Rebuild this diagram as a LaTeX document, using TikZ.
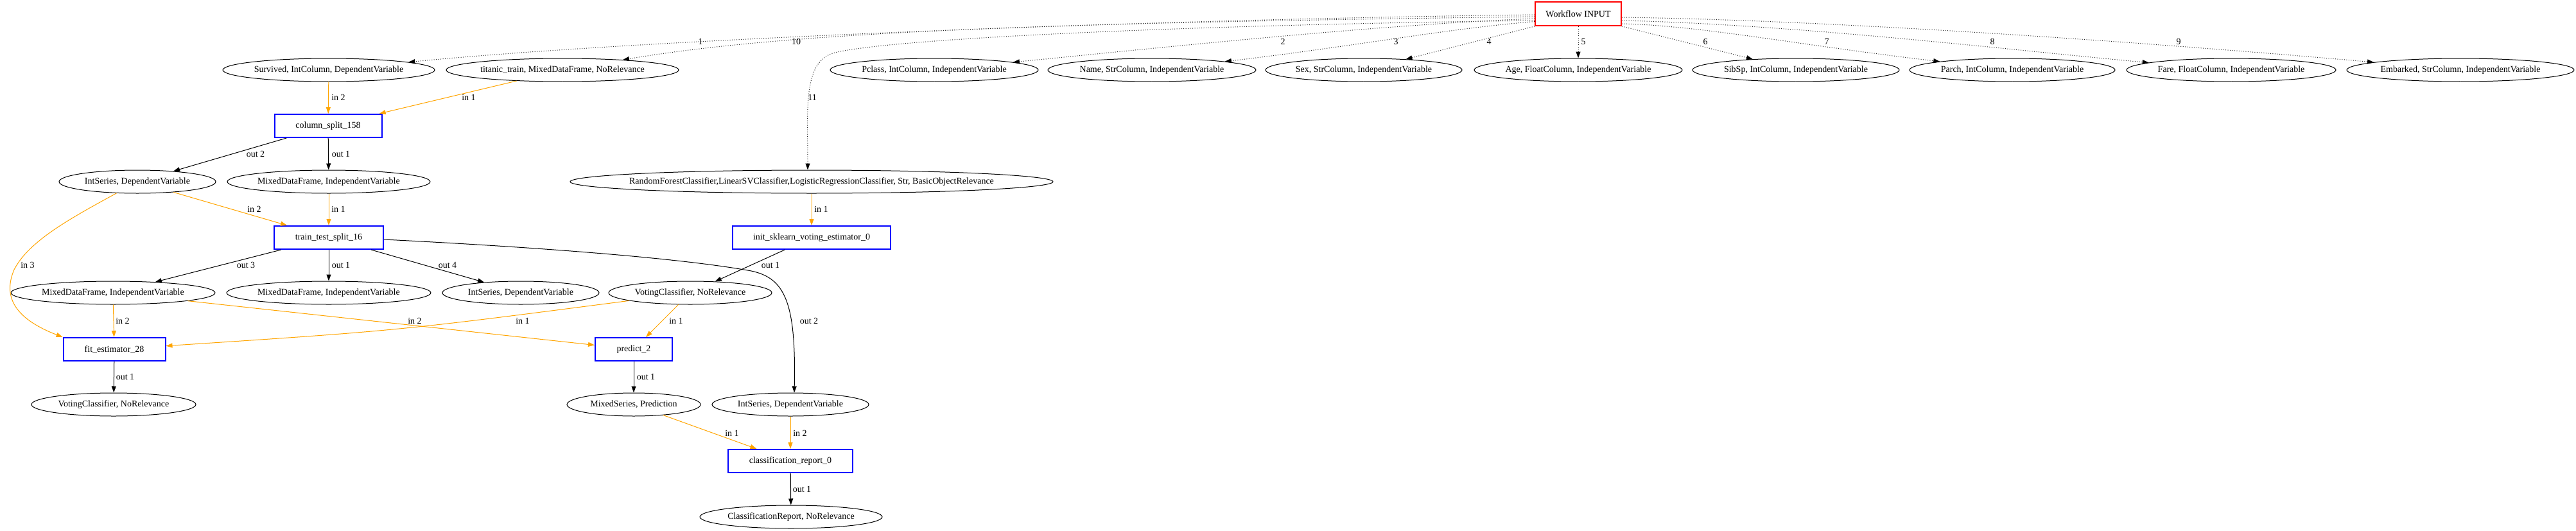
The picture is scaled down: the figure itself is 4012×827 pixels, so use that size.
\documentclass[tikz,border=0pt]{standalone}
\usepackage{fontspec}
\setmainfont{Liberation Serif}
\usetikzlibrary{shapes.geometric,arrows.meta,calc}
\definecolor{gvorange}{RGB}{255,165,0}
\definecolor{gvblue}{RGB}{0,0,255}
\definecolor{gvred}{RGB}{255,0,0}
\newcommand{\ztext}[1]{\makebox[0pt][c]{#1}}
\begin{document}
\begin{tikzpicture}[x=1pt,y=-1pt,
  every node/.style={font=\fontsize{14}{16}\selectfont},
  ell/.style={draw, ellipse, line width=1pt, minimum height=36pt, inner sep=0pt},
  opbox/.style={draw=gvblue, line width=2pt, minimum height=36pt, inner sep=0pt},
  inbox/.style={draw=gvred, line width=2pt, minimum height=37pt, minimum width=134pt, inner sep=0pt},
  gvtip/.style={-{Triangle[length=10pt,width=7pt]}},
  dotE/.style={draw=black!85, line width=1pt, dash pattern=on 1pt off 2.5pt, -{Triangle[length=10pt,width=7pt,color=black]}},
  inE/.style={draw=gvorange, line width=1pt, gvtip},
  outE/.style={draw=black, line width=1pt, gvtip},
  lab/.style={inner sep=0pt}
]
\fill[white] (0,0) rectangle (4012,827);
\useasboundingbox (0,0) rectangle (4012,827);

% input
\node[inbox] (wf) at (2458,21.5) {Workflow INPUT};

% top row
\node[ell, minimum width=330pt] (surv) at (512,109) {\ztext{Survived, IntColumn, DependentVariable}};
\node[ell, minimum width=362pt] (titanic) at (876,109) {\ztext{titanic\_train, MixedDataFrame, NoRelevance}};
\node[ell, minimum width=324pt] (pclass) at (1455,109) {\ztext{Pclass, IntColumn, IndependentVariable}};
\node[ell, minimum width=324pt] (name) at (1794,109) {\ztext{Name, StrColumn, IndependentVariable}};
\node[ell, minimum width=306pt] (sex) at (2124,109) {\ztext{Sex, StrColumn, IndependentVariable}};
\node[ell, minimum width=324pt] (age) at (2458,109) {\ztext{Age, FloatColumn, IndependentVariable}};
\node[ell, minimum width=322pt] (sibsp) at (2797,109) {\ztext{SibSp, IntColumn, IndependentVariable}};
\node[ell, minimum width=320pt] (parch) at (3134,109) {\ztext{Parch, IntColumn, IndependentVariable}};
\node[ell, minimum width=326pt] (fare) at (3475,109) {\ztext{Fare, FloatColumn, IndependentVariable}};
\node[ell, minimum width=354pt] (emb) at (3832,109) {\ztext{Embarked, StrColumn, IndependentVariable}};

% operations and data
\node[opbox, minimum width=167pt] (cs) at (511,196) {column\_split\_158};
\node[ell, minimum width=244pt] (intS) at (214,283) {\ztext{IntSeries, DependentVariable}};
\node[ell, minimum width=316pt] (mdf) at (512,283) {\ztext{MixedDataFrame, IndependentVariable}};
\node[ell, minimum width=752pt] (rfc) at (1264,283) {\ztext{RandomForestClassifier,LinearSVClassifier,LogisticRegressionClassifier, Str, BasicObjectRelevance}};
\node[opbox, minimum width=170pt] (tts) at (512,370) {train\_test\_split\_16};
\node[opbox, minimum width=246pt] (init) at (1264,370) {init\_sklearn\_voting\_estimator\_0};
\node[ell, minimum width=318pt] (mdfL) at (176,456) {\ztext{MixedDataFrame, IndependentVariable}};
\node[ell, minimum width=318pt] (mdfM) at (512,456) {\ztext{MixedDataFrame, IndependentVariable}};
\node[ell, minimum width=244pt] (intM) at (811,456) {\ztext{IntSeries, DependentVariable}};
\node[ell, minimum width=254pt] (vote) at (1075,456) {\ztext{VotingClassifier, NoRelevance}};
\node[opbox, minimum width=159pt] (fit) at (178,544) {fit\_estimator\_28};
\node[opbox, minimum width=120pt] (pred) at (987,544) {predict\_2};
\node[ell, minimum width=256pt] (voteL) at (177,630) {\ztext{VotingClassifier, NoRelevance}};
\node[ell, minimum width=208pt] (ms) at (987,630) {\ztext{MixedSeries, Prediction}};
\node[ell, minimum width=244pt] (intR) at (1231,630) {\ztext{IntSeries, DependentVariable}};
\node[opbox, minimum width=194pt] (cr) at (1231,718) {classification\_report\_0};
\node[ell, minimum width=284pt] (crep) at (1232,805) {\ztext{ClassificationReport, NoRelevance}};

% dotted input edges
\draw[dotE] ($(wf.west)+(0,1.5)$) .. controls (1800,30) and (1000,61) .. (surv);
\draw[dotE] ($(wf.west)+(0,4.5)$) .. controls (1700,35) and (1250,46) .. (titanic);
\draw[dotE] ($(wf.west)+(0,10.5)$) .. controls (1900,38) and (1400,58) .. (1300,82) .. controls (1250,95) and (1258,170) .. ($(rfc.north)+(-6,0)$);
\draw[dotE] ($(wf.west)+(0,7.5)$) .. controls (2150,38) and (1800,75) .. (pclass);
\draw[dotE] ($(wf.west)+(0,12)$) .. controls (2250,45) and (2100,73.5) .. (name);
\draw[dotE] (wf.south west) -- (sex);
\draw[dotE] (wf) -- (age);
\draw[dotE] (wf.south east) -- (sibsp);
\draw[dotE] ($(wf.east)+(0,15.5)$) .. controls (2650,40) and (2800,70) .. (parch);
\draw[dotE] ($(wf.east)+(0,10.5)$) .. controls (2800,38) and (3150,80) .. (fare);
\draw[dotE] ($(wf.east)+(0,5.5)$) .. controls (2900,32) and (3450,75) .. (emb);

\node[lab] (l1) at (1091,65) {1};
\node[lab] (l10) at (1240,65) {10};
\node[lab] (l11) at (1265,152) {11};
\node[lab] (l2) at (1998,65) {2};
\node[lab] (l3) at (2174,65) {3};
\node[lab] (l4) at (2319,65) {4};
\node[lab] (l5) at (2466,65) {5};
\node[lab] (l6) at (2656,65) {6};
\node[lab] (l7) at (2845,65) {7};
\node[lab] (l8) at (3103,65) {8};
\node[lab] (l9) at (3393,65) {9};

% data flow edges
\draw[inE] (surv) -- (cs);
\draw[inE] (titanic) -- (cs);
\draw[outE] (cs) -- (intS);
\draw[outE] (cs) -- (mdf);
\draw[inE] (intS) -- (tts);
\draw[inE] (intS) .. controls (110,340) and (45,375) .. (22,420) .. controls (5,460) and (20,495) .. (fit.north west);
\draw[inE] (mdf) -- (tts);
\draw[inE] (rfc) -- (init);
\draw[outE] (tts) -- (mdfL);
\draw[outE] (tts) -- (mdfM);
\draw[outE] (tts) -- (intM);
\draw[outE] ($(tts.east)+(0,3)$) .. controls (800,383) and (1050,400) .. (1170,422) .. controls (1222,433) and (1240,470) .. ($(intR.north)+(6,0)$);
\draw[outE] (init) -- (vote);
\draw[inE] (mdfL) -- (fit);
\draw[inE] (mdfL) -- (pred);
\draw[inE] (vote) .. controls (620,515) .. (fit);
\draw[inE] (vote) -- (pred);
\draw[outE] (fit) -- (voteL);
\draw[outE] (pred) -- (ms);
\draw[inE] (ms) -- (cr);
\draw[inE] (intR) -- (cr);
\draw[outE] (cr) -- (crep);

\node[lab] (a1) at (527,152) {in 2};
\node[lab] (a2) at (730,152) {in 1};
\node[lab] (a3) at (398,240) {out 2};
\node[lab] (a4) at (531,240) {out 1};
\node[lab] (a5) at (396,326) {in 2};
\node[lab] (a6) at (527,326) {in 1};
\node[lab] (a7) at (43,413) {in 3};
\node[lab] (a8) at (1279,326) {in 1};
\node[lab] (a9) at (383,413) {out 3};
\node[lab] (a10) at (531,413) {out 1};
\node[lab] (a11) at (697,413) {out 4};
\node[lab] (a12) at (1200,413) {out 1};
\node[lab] (a13) at (1260,500) {out 2};
\node[lab] (a14) at (191,500) {in 2};
\node[lab] (a15) at (646,500) {in 2};
\node[lab] (a16) at (814,500) {in 1};
\node[lab] (a17) at (1053,500) {in 1};
\node[lab] (a18) at (195,587) {out 1};
\node[lab] (a19) at (1006,587) {out 1};
\node[lab] (a20) at (1140,675) {in 1};
\node[lab] (a21) at (1246,675) {in 2};
\node[lab] (a22) at (1249,762) {out 1};
\end{tikzpicture}
\end{document}
